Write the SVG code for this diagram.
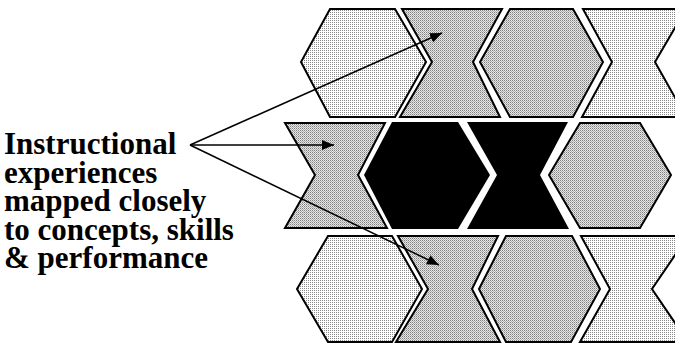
<svg xmlns="http://www.w3.org/2000/svg" width="675" height="346" viewBox="0 0 675 346">
<defs>
<pattern id="lite" patternUnits="userSpaceOnUse" width="2" height="2">
<rect width="2" height="2" fill="#ffffff"/>
<rect width="1" height="1" fill="#8a8a8a"/>
</pattern>
<pattern id="dark" patternUnits="userSpaceOnUse" width="2" height="2">
<rect width="2" height="2" fill="#e6e6e6"/>
<rect width="1" height="1" fill="#808080"/>
<rect x="1" y="1" width="1" height="1" fill="#b0b0b0"/>
</pattern>
<marker id="ah" viewBox="0 0 12 10" refX="12" refY="5" markerWidth="12" markerHeight="10" markerUnits="userSpaceOnUse" orient="auto">
<path d="M0,0 L12,5 L0,10 Z" fill="#000"/>
</marker>
</defs>
<style>
.lt{fill:url(#lite);stroke:#000;stroke-width:2;stroke-linejoin:miter}
.dk{fill:url(#dark);stroke:#000;stroke-width:2;stroke-linejoin:miter}
.bk{fill:#000;stroke:none}
.lbl{font-family:"Liberation Serif","Times New Roman",serif;font-weight:bold;font-size:31px;fill:#000}
.con{stroke:#000;stroke-width:1.5;fill:none}
</style>
<g id="top-hex-1"><polygon class="lt" points="330,9 395,9 426,62 395,117 330,117 301,62"/></g>
<g id="top-bowtie-1"><polygon class="dk" points="402,9 502,9 473,62 500,117 400,117 432,62"/></g>
<g id="top-hex-2"><polygon class="dk" points="510,9 573,9 603,62 573,117 510,117 480,62"/></g>
<g id="top-bowtie-2"><polygon class="lt" points="583,9 686,9 655,62 686,117 582,117 612,62"/></g>

<g id="mid-bowtie-1"><polygon class="dk" points="285,123 385,123 358,175 387,228 285,228 315,175"/></g>
<g id="mid-hex-black"><polygon class="bk" points="392,122 458,122 490,175 458,229 392,229 364,175"/></g>
<g id="mid-bowtie-black"><polygon class="bk" points="467,122 568,122 540,175 569,229 467,229 497,175"/></g>
<g id="mid-hex-2"><polygon class="dk" points="580,123 640,123 671,175 640,228 580,228 549,175"/></g>

<g id="bot-hex-1"><polygon class="lt" points="328,236 392,236 422,289 392,342 328,342 297,289"/></g>
<g id="bot-bowtie-1"><polygon class="dk" points="398,236 498,236 472,289 500,342 396,342 428,289"/></g>
<g id="bot-hex-2"><polygon class="dk" points="506,236 572,236 600,289 571,342 506,342 479,289"/></g>
<g id="bot-bowtie-2"><polygon class="lt" points="581,236 688,236 652,289 688,342 580,342 610,289"/></g>

<g id="label">
<text class="lbl" x="4" y="154">Instructional</text>
<text class="lbl" x="4" y="182.5">experiences</text>
<text class="lbl" x="4" y="211">mapped closely</text>
<text class="lbl" x="4" y="239.5">to concepts, skills</text>
<text class="lbl" x="4" y="268">&amp; performance</text>
</g>
<g id="connectors">
<line class="con" x1="190" y1="145" x2="442" y2="33" marker-end="url(#ah)"/>
<line class="con" x1="190" y1="145" x2="334" y2="145" marker-end="url(#ah)"/>
<line class="con" x1="190" y1="145" x2="439" y2="265" marker-end="url(#ah)"/>
</g>
</svg>
